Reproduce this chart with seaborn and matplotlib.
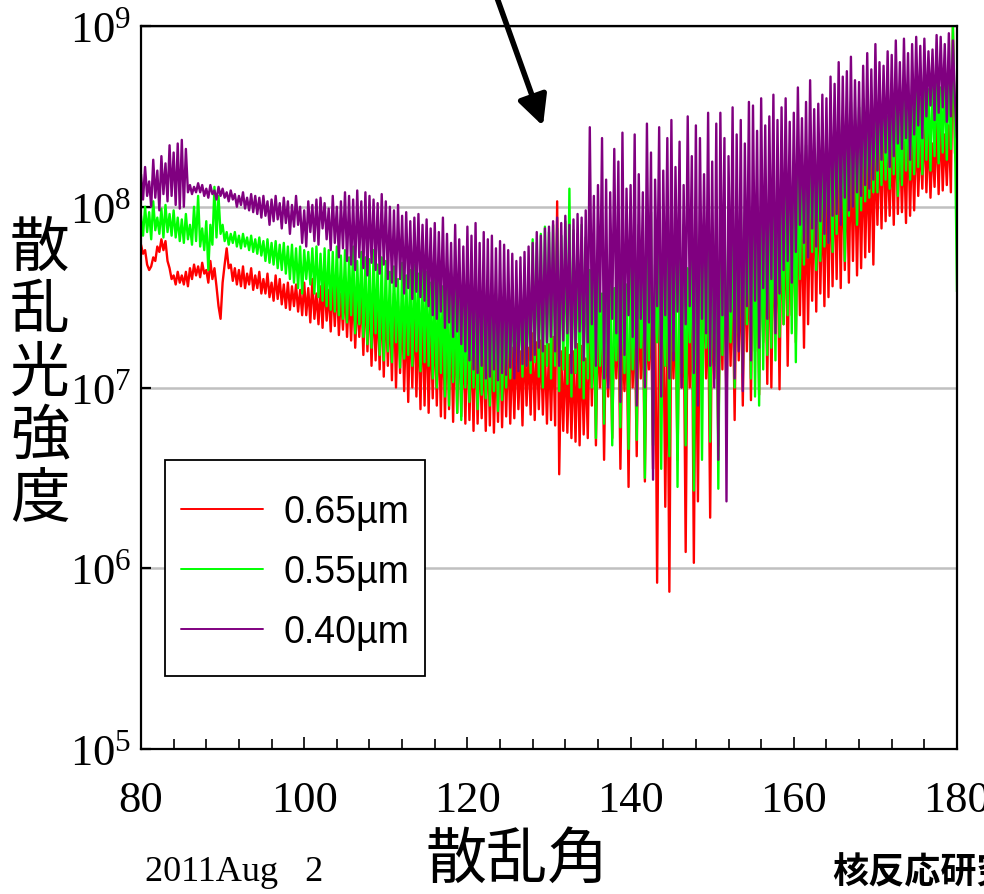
import numpy as np
import pandas as pd
import matplotlib
matplotlib.use("Agg")
import matplotlib.pyplot as plt
import seaborn as sns
from matplotlib.lines import Line2D
from matplotlib.patches import Rectangle
from matplotlib.ticker import FixedLocator, MultipleLocator, NullLocator, FuncFormatter

# Scattering-angle grid: a sample every quarter degree (peak, trough, peak, ...)
ANGLE_START, ANGLE_STOP, ANGLE_STEP = 80.0, 180.0, 0.25

# log10(intensity) x 100, alternating peak / trough values, one row = 5 degrees
logI_065 = [
    779, 774, 776, 768, 765, 767, 772, 770, 778, 775, 782, 776, 781, 770, 766, 760, 762, 757, 764, 758,  # 80
    762, 757, 764, 756, 766, 760, 768, 762, 767, 761, 769, 763, 765, 758, 770, 760, 766, 756, 745, 738,  # 85
    758, 768, 777, 766, 768, 759, 766, 757, 765, 756, 767, 755, 763, 757, 766, 754, 762, 755, 764, 752,  # 90
    760, 752, 763, 750, 758, 748, 762, 749, 760, 746, 757, 744, 758, 743, 756, 745, 757, 742, 754, 740,  # 95
    758, 740, 755, 736, 760, 738, 752, 735, 756, 733, 759, 737, 754, 731, 757, 734, 758, 729, 752, 732,  # 100
    757, 728, 753, 726, 755, 722, 750, 728, 752, 718, 756, 720, 754, 712, 750, 715, 748, 710, 753, 706,  # 105
    750, 712, 746, 704, 752, 700, 745, 708, 747, 698, 742, 692, 744, 700, 748, 695, 740, 688, 746, 690,  # 110
    742, 686, 738, 694, 740, 690, 736, 684, 738, 683, 735, 688, 736, 681, 740, 686, 734, 684, 730, 680,  # 115
    732, 682, 728, 676, 734, 680, 724, 683, 726, 676, 730, 679, 728, 675, 720, 681, 730, 678, 725, 684,  # 120
    727, 680, 722, 683, 725, 688, 720, 679, 728, 690, 722, 685, 730, 682, 725, 688, 726, 685, 723, 680,  # 125
    724, 682, 728, 679, 803, 652, 720, 676, 722, 675, 718, 672, 720, 670, 724, 668, 723, 674, 716, 672,  # 130
    738, 690, 742, 668, 735, 700, 740, 660, 740, 695, 733, 672, 736, 705, 742, 655, 731, 698, 738, 645,  # 135
    745, 700, 738, 662, 750, 705, 742, 648, 740, 710, 748, 655, 752, 592, 745, 700, 748, 634, 742, 587,  # 140
    755, 705, 744, 660, 750, 700, 746, 609, 752, 700, 760, 603, 748, 637, 756, 700, 758, 705, 750, 628,  # 145
    760, 705, 765, 668, 758, 710, 768, 690, 770, 712, 762, 682, 775, 715, 768, 690, 772, 720, 778, 693,  # 150
    780, 720, 774, 696, 785, 725, 778, 702, 790, 700, 782, 730, 786, 699, 792, 735, 795, 712, 788, 740,  # 155
    800, 725, 805, 740, 798, 722, 810, 735, 806, 748, 812, 742, 815, 752, 808, 745, 818, 750, 821, 756,  # 160
    822, 760, 826, 755, 828, 765, 821, 758, 830, 770, 825, 762, 826, 766, 830, 772, 828, 775, 832, 768,  # 165
    835, 790, 840, 788, 845, 792, 832, 795, 838, 790, 848, 796, 842, 797, 836, 791, 849, 795, 840, 798,  # 170
    845, 806, 838, 810, 848, 808, 842, 805, 835, 811, 846, 807, 850, 809, 840, 812, 845, 808, 900, 830,  # 175
    820,
]

logI_055 = [
    795, 784, 800, 786, 797, 782, 803, 787, 794, 785, 799, 783, 801, 786, 796, 784, 798, 783, 794, 781,  # 80
    793, 780, 796, 782, 790, 779, 800, 781, 806, 778, 788, 776, 792, 765, 790, 779, 811, 783, 806, 785,  # 85
    790, 781, 786, 779, 785, 780, 786, 778, 784, 777, 785, 778, 783, 776, 784, 775, 782, 774, 783, 773,  # 90
    781, 770, 782, 769, 780, 768, 781, 766, 779, 765, 780, 763, 778, 760, 779, 758, 777, 755, 778, 752,  # 95
    776, 760, 775, 757, 777, 752, 778, 750, 774, 748, 777, 745, 776, 743, 775, 742, 778, 740, 773, 738,  # 100
    776, 736, 772, 740, 778, 730, 770, 735, 775, 728, 772, 724, 771, 722, 776, 730, 768, 718, 772, 715,  # 105
    770, 720, 764, 714, 767, 725, 760, 711, 769, 716, 762, 718, 765, 712, 768, 720, 763, 709, 766, 714,  # 110
    764, 712, 758, 705, 760, 700, 762, 708, 756, 695, 759, 690, 754, 703, 757, 686, 758, 682, 753, 700,  # 115
    752, 692, 748, 700, 755, 688, 745, 696, 750, 694, 742, 690, 746, 698, 752, 687, 748, 693, 744, 700,  # 120
    745, 705, 750, 712, 748, 710, 752, 706, 752, 712, 758, 708, 782, 714, 780, 706, 785, 700, 789, 712,  # 125
    786, 705, 790, 712, 788, 698, 784, 710, 792, 702, 810, 695, 787, 708, 785, 700, 790, 694, 783, 705,  # 130
    765, 700, 758, 672, 770, 712, 752, 680, 762, 705, 768, 668, 755, 715, 764, 678, 769, 708, 757, 666,  # 135
    780, 710, 768, 671, 790, 722, 770, 650, 775, 715, 797, 668, 768, 725, 785, 655, 772, 712, 779, 662,  # 140
    782, 720, 770, 645, 776, 708, 790, 668, 766, 725, 785, 643, 792, 715, 772, 660, 780, 722, 776, 670,  # 145
    788, 712, 795, 644, 784, 718, 799, 690, 800, 725, 786, 700, 796, 730, 804, 708, 790, 735, 800, 705,  # 150
    802, 695, 793, 690, 805, 710, 798, 718, 808, 722, 812, 715, 815, 728, 806, 735, 818, 740, 822, 730,  # 155
    825, 714, 830, 760, 822, 768, 834, 772, 828, 775, 832, 765, 835, 770, 840, 778, 845, 780, 838, 775,  # 160
    850, 785, 856, 792, 845, 770, 852, 795, 858, 800, 848, 790, 855, 798, 860, 803, 852, 805, 858, 808,  # 165
    856, 808, 862, 812, 866, 815, 850, 810, 860, 818, 864, 806, 852, 812, 867, 820, 858, 815, 862, 818,  # 170
    868, 822, 860, 818, 874, 826, 865, 820, 870, 828, 876, 824, 866, 830, 872, 826, 875, 832, 900, 840,  # 175
    753,
]

logI_040 = [
    818, 804, 822, 806, 814, 800, 826, 805, 820, 798, 828, 807, 824, 803, 834, 806, 830, 801, 835, 799,  # 80
    837, 800, 832, 808, 812, 807, 811, 808, 813, 808, 812, 806, 810, 805, 812, 807, 809, 804, 811, 806,  # 85
    810, 805, 808, 803, 809, 804, 807, 800, 806, 801, 808, 799, 805, 798, 807, 797, 806, 796, 805, 794,  # 90
    806, 795, 803, 790, 804, 792, 806, 793, 802, 788, 805, 791, 803, 785, 801, 789, 806, 790, 800, 780,  # 95
    798, 778, 803, 786, 801, 781, 804, 779, 805, 788, 802, 782, 799, 776, 806, 780, 800, 772, 803, 777,  # 100
    808, 770, 806, 768, 804, 765, 809, 772, 803, 766, 808, 762, 806, 769, 804, 765, 802, 763, 807, 768,  # 105
    803, 760, 800, 758, 798, 756, 801, 760, 795, 752, 797, 755, 792, 749, 794, 753, 796, 750, 790, 748,  # 110
    793, 745, 788, 740, 791, 738, 786, 742, 794, 733, 785, 736, 780, 728, 790, 731, 782, 724, 778, 720,  # 115
    789, 715, 784, 710, 791, 708, 780, 712, 786, 705, 782, 706, 784, 710, 777, 704, 781, 708, 779, 707,  # 120
    776, 711, 774, 705, 770, 709, 772, 713, 775, 712, 778, 715, 780, 718, 786, 722, 784, 720, 788, 725,  # 125
    789, 728, 792, 720, 794, 712, 791, 726, 795, 730, 790, 708, 793, 722, 796, 731, 794, 715, 798, 725,  # 130
    844, 735, 806, 712, 812, 742, 838, 705, 815, 700, 808, 738, 832, 730, 825, 692, 841, 718, 810, 740,  # 135
    812, 728, 840, 690, 818, 738, 808, 700, 846, 736, 830, 649, 815, 745, 844, 695, 820, 740, 838, 705,  # 140
    848, 715, 822, 742, 836, 700, 812, 735, 850, 745, 828, 708, 845, 690, 838, 738, 818, 730, 852, 712,  # 145
    825, 700, 846, 660, 852, 740, 838, 637, 828, 742, 855, 705, 840, 720, 848, 698, 835, 745, 858, 715,  # 150
    856, 748, 842, 722, 860, 755, 845, 738, 850, 760, 862, 730, 848, 752, 855, 765, 860, 770, 847, 758,  # 155
    852, 775, 866, 790, 849, 780, 858, 772, 870, 788, 854, 778, 857, 792, 862, 785, 860, 780, 872, 795,  # 160
    868, 796, 880, 790, 872, 805, 875, 798, 883, 800, 870, 808, 869, 806, 878, 812, 885, 810, 876, 815,  # 165
    890, 820, 880, 826, 878, 830, 886, 822, 884, 828, 892, 835, 880, 832, 893, 838, 885, 826, 890, 840,  # 170
    894, 845, 889, 838, 893, 850, 886, 856, 887, 848, 895, 852, 894, 855, 890, 847, 896, 850, 892, 858,  # 175
    838,
]

wavelengths = ["0.65µm", "0.55µm", "0.40µm"]
line_colors = ["#ff0000", "#00ff00", "#800080"]
y_decades = [5, 6, 7, 8, 9]

sns.set_style("ticks")
plt.rcParams["font.family"] = ["Noto Sans CJK JP", "DejaVu Sans"]
plt.rcParams["text.color"] = "black"

angles = np.arange(ANGLE_START, ANGLE_STOP + ANGLE_STEP / 2, ANGLE_STEP)
frames = []
for name, logs in zip(wavelengths, [logI_065, logI_055, logI_040]):
    frames.append(pd.DataFrame({
        "angle": angles,
        "intensity": np.power(10.0, np.asarray(logs) / 100.0),
        "wavelength": name,
    }))
df = pd.concat(frames, ignore_index=True)

fig = plt.figure(figsize=(9.84, 8.95), dpi=100)
ax = fig.add_axes([141 / 984, 145 / 895, 816 / 984, 723 / 895])

# series drawn in legend order, so the shortest wavelength ends up on top
for name, color in zip(wavelengths, line_colors):
    sns.lineplot(data=df[df["wavelength"] == name], x="angle", y="intensity",
                 color=color, lw=1.7, estimator=None, sort=False, ax=ax,
                 legend=False)

ax.set_yscale("log")
ax.set_xlim(80, 180)
ax.set_ylim(10.0 ** y_decades[0], 10.0 ** y_decades[-1])
ax.set_xlabel("")
ax.set_ylabel("")

ax.xaxis.set_major_locator(MultipleLocator(20))
ax.xaxis.set_minor_locator(MultipleLocator(4))
ax.yaxis.set_major_locator(FixedLocator([10.0 ** d for d in y_decades]))
ax.yaxis.set_minor_locator(NullLocator())
ax.yaxis.set_major_formatter(FuncFormatter(
    lambda v, p: r"$\mathregular{10^{%d}}$" % int(round(np.log10(v)))))

ax.tick_params(axis="both", which="both", direction="in", color="black",
               labelfontfamily="Liberation Serif", labelcolor="black")
ax.tick_params(axis="x", which="major", length=9, width=1.2, pad=22, labelsize=32)
ax.tick_params(axis="x", which="minor", length=7, width=1.2)
ax.tick_params(axis="y", which="major", length=7, width=1.6, pad=7, labelsize=32)

ax.grid(axis="y", which="major", color="#c0c0c0", lw=1.8)
ax.set_axisbelow(True)
for spine in ax.spines.values():
    spine.set_color("black")
    spine.set_linewidth(1.6)

# legend: white box with black border, entries centred inside it
ax.add_patch(Rectangle((24 / 816, 73 / 723), 260 / 816, 216 / 723,
                       transform=ax.transAxes, facecolor="white",
                       edgecolor="black", lw=1.3, zorder=4.9))
handles = [Line2D([], [], color=c, lw=1.4) for c in line_colors]
leg = ax.legend(handles, wavelengths, loc="center",
                bbox_to_anchor=(154 / 816, 177 / 723), borderaxespad=0,
                borderpad=0, prop={"family": "Liberation Sans", "size": 27},
                labelcolor="black", frameon=False, labelspacing=0.64,
                handlelength=2.2, handletextpad=0.55)
leg.set_zorder(5)

# arrow pointing at the dip around 130 degrees
ax.annotate("", xy=(129.26, 10 ** 8.447), xytext=(123.2, 10 ** 9.21),
            xycoords="data", textcoords="data", annotation_clip=False,
            arrowprops=dict(arrowstyle="-|>,head_length=0.9,head_width=0.45",
                            lw=4, color="black", shrinkA=0, shrinkB=0,
                            mutation_scale=20))

# vertical axis title, one character per row
for ch, yc in zip("散乱光強度", [249, 311, 374, 437, 501]):
    fig.text(40 / 984, 1 - yc / 895, ch, fontsize=43, ha="center", va="center")

fig.text(517 / 984, 1 - 861 / 895, "散乱角", fontsize=44, ha="center", va="center")
fig.text(145 / 984, 1 - 881 / 895, "2011Aug   2", fontsize=26,
         family="Liberation Serif", ha="left", va="baseline")
fig.text(832 / 984, 1 - 882 / 895, "核反応研究", fontsize=26, weight="bold",
         ha="left", va="baseline")

fig.savefig("out.png", dpi=100)
